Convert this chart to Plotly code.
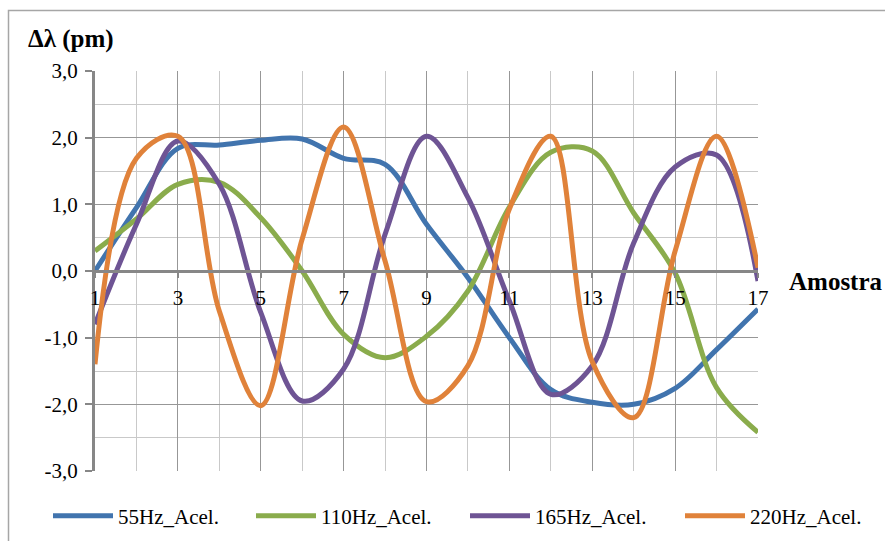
import plotly.graph_objects as go

amostra = list(range(1, 18))
s55 = [0.0, 0.95, 1.84, 1.89, 1.96, 1.98, 1.69, 1.6, 0.7, -0.1, -1.0, -1.78, -1.97, -2.0, -1.76, -1.18, -0.57]
s110 = [0.3, 0.78, 1.3, 1.33, 0.8, 0.0, -0.95, -1.3, -0.98, -0.3, 0.96, 1.78, 1.8, 0.87, -0.03, -1.75, -2.42]
s165 = [-0.8, 0.7, 1.95, 1.3, -0.62, -1.95, -1.47, 0.55, 2.02, 1.1, -0.45, -1.85, -1.42, 0.42, 1.56, 1.74, -0.15]
s220 = [-1.4, 1.69, 2.02, -0.6, -2.02, 0.48, 2.16, 0.15, -1.96, -1.42, 0.93, 2.02, -1.36, -2.2, 0.3, 2.02, 0.05]

names = ["55Hz_Acel.", "110Hz_Acel.", "165Hz_Acel.", "220Hz_Acel."]
series = [s55, s110, s165, s220]
colors = ["#4174AE", "#8AAC4C", "#6E5494", "#E0823A"]

y_tickvals = [-3, -2, -1, 0, 1, 2, 3]
y_ticktext = ["-3,0", "-2,0", "-1,0", "0,0", "1,0", "2,0", "3,0"]
x_tickvals = [1, 3, 5, 7, 9, 11, 13, 15, 17]
x_ticktext = [str(v) for v in x_tickvals]

FONT = "Liberation Serif"

W, H = 885, 541
L, R, T, B = 95, W - 758, 71, H - 471
pw, ph = W - L - R, H - T - B

def px2x(px):
    return (px - L) / pw

def py2y(py):
    return (H - B - py) / ph

legend_ids = ["legend", "legend2", "legend3", "legend4"]
legend_px = [48, 251, 465, 680]

fig = go.Figure()
for n, s, c, lid in zip(names, series, colors, legend_ids):
    fig.add_trace(go.Scatter(x=amostra, y=s, name=n, mode="lines", legend=lid,
                             line=dict(color=c, width=5, shape="spline", smoothing=1.0)))

legend_layout = {}
for lid, lx in zip(legend_ids, legend_px):
    legend_layout[lid] = dict(orientation="h", x=px2x(lx), y=py2y(516), xanchor="left", yanchor="middle",
                              itemwidth=60, font=dict(size=21, family=FONT, color="black"),
                              bgcolor="rgba(0,0,0,0)")

fig.update_layout(
    width=W, height=H,
    margin=dict(l=L, r=R, t=T, b=B, autoexpand=False),
    paper_bgcolor="white", plot_bgcolor="white",
    font=dict(family=FONT, size=21, color="black"),
    showlegend=True,
    xaxis=dict(range=[1, 17], tickmode="array", tickvals=x_tickvals, ticktext=x_ticktext,
               anchor="free", position=0.5, showline=True, linecolor="#878787", linewidth=3,
               ticks="outside", ticklen=5, tickwidth=2, tickcolor="#878787",
               showgrid=True, gridcolor="#979797", gridwidth=1.4, zeroline=False,
               minor=dict(dtick=1, tick0=0, showgrid=True, gridcolor="#c9c9c9", gridwidth=1.4, ticks=""),
               ticklabelstandoff=2),
    yaxis=dict(range=[-3, 3], tickmode="array", tickvals=y_tickvals, ticktext=y_ticktext,
               showline=True, linecolor="#878787", linewidth=3,
               ticks="outside", ticklen=7, tickwidth=2, tickcolor="#878787",
               showgrid=True, gridcolor="#979797", gridwidth=1.4, zeroline=False,
               minor=dict(dtick=0.5, tick0=0, showgrid=True, gridcolor="#c9c9c9", gridwidth=1.4, ticks=""),
               ticklabelstandoff=3),
    shapes=[dict(type="rect", xref="paper", yref="paper",
                 x0=px2x(8.5), x1=px2x(900), y0=py2y(560), y1=py2y(10.5),
                 line=dict(color="#a6a6a6", width=1.5), fillcolor="rgba(0,0,0,0)", layer="below")],
    annotations=[
        dict(text="<b>Δλ (pm)</b>", xref="paper", yref="paper", x=px2x(26), y=py2y(39),
             xanchor="left", yanchor="middle", showarrow=False, font=dict(size=25, family=FONT)),
        dict(text="<b>Amostra</b>", xref="paper", yref="paper", x=px2x(787), y=py2y(281),
             xanchor="left", yanchor="middle", showarrow=False, font=dict(size=25, family=FONT)),
    ],
    **legend_layout,
)

fig.write_html("out.html")
